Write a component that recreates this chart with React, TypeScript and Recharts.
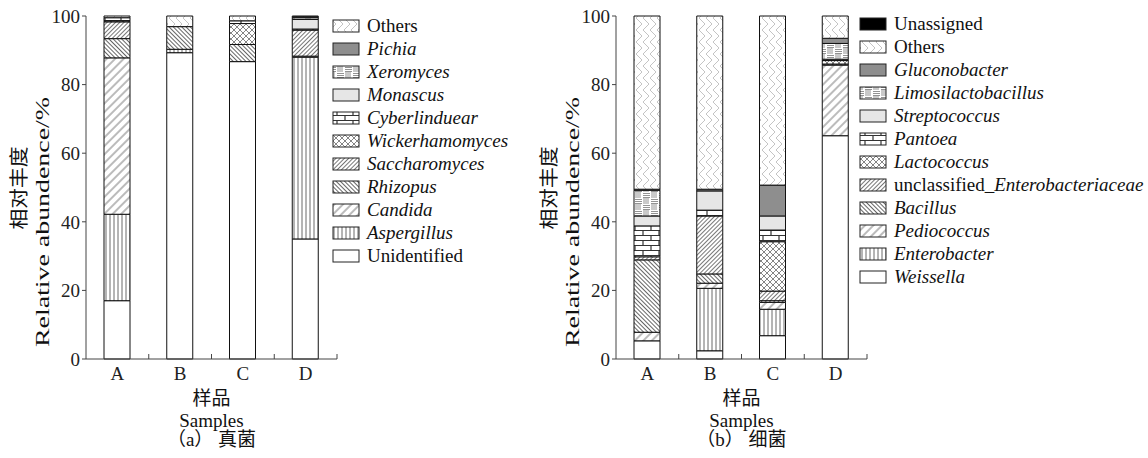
import { Bar, BarChart, XAxis, YAxis } from 'recharts'

const samples = ['A', 'B', 'C', 'D']
const yTicks = [0, 20, 40, 60, 80, 100]

// (a) fungi, stacked bottom -> top
const fungiSeries = [
  'Unidentified', 'Aspergillus', 'Candida', 'Rhizopus', 'Saccharomyces',
  'Wickerhamomyces', 'Cyberlinduear', 'Monascus', 'Xeromyces', 'Pichia', 'Others',
]
const unidentified = [17.0, 89.3, 86.7, 35.0]
const aspergillus = [25.2, 1.0, 0, 53.0]
const candida = [45.6, 0, 0, 0.3]
const rhizopus = [5.6, 6.6, 5.0, 0]
const saccharomyces = [4.9, 0, 0, 7.6]
const wickerhamomyces = [0.3, 0, 6.1, 0]
const cyberlinduear = [0.9, 0, 0.8, 0.3]
const monascus = [0, 0, 0, 2.8]
const xeromyces = [0, 0, 0, 0.5]
const pichia = [0, 0, 0, 0.3]
const fungiOthers = [0.5, 3.1, 1.4, 0.2]

// (b) bacteria, stacked bottom -> top
const bacteriaSeries = [
  'Weissella', 'Enterobacter', 'Pediococcus', 'Bacillus', 'unclassified_Enterobacteriaceae',
  'Lactococcus', 'Pantoea', 'Streptococcus', 'Limosilactobacillus', 'Gluconobacter', 'Others', 'Unassigned',
]
const weissella = [5.3, 2.4, 6.8, 65.1]
const enterobacter = [0, 18.2, 7.7, 0]
const pediococcus = [2.5, 1.5, 2.0, 20.6]
const bacillus = [21.1, 2.7, 0.5, 0]
const unclassifiedEnt = [0.9, 16.9, 2.8, 0.3]
const lactococcus = [0, 0, 14.4, 1.0]
const pantoea = [9.0, 1.7, 3.4, 0.4]
const streptococcus = [2.9, 5.6, 4.1, 0]
const limosilactobacillus = [7.5, 0, 0, 4.6]
const gluconobacter = [0.3, 0.5, 9.0, 1.5]
const bacteriaOthers = [50.5, 50.5, 49.3, 6.5]
const unassigned = [0, 0, 0, 0]

const fungiValues = [
  unidentified, aspergillus, candida, rhizopus, saccharomyces,
  wickerhamomyces, cyberlinduear, monascus, xeromyces, pichia, fungiOthers,
]
const bacteriaValues = [
  weissella, enterobacter, pediococcus, bacillus, unclassifiedEnt,
  lactococcus, pantoea, streptococcus, limosilactobacillus, gluconobacter, bacteriaOthers, unassigned,
]

const buildRows = (names: string[], values: number[][]) =>
  samples.map((s, i) => {
    const row: Record<string, string | number> = { sample: s }
    names.forEach((n, k) => (row[n] = values[k][i]))
    return row
  })

const fungiData = buildRows(fungiSeries, fungiValues)
const bacteriaData = buildRows(bacteriaSeries, bacteriaValues)

// fills, same order as the stacks
const fungiFills = [
  '#ffffff', 'url(#pVert)', 'url(#pSparse)', 'url(#pBack)', 'url(#pFwd)',
  'url(#pCross)', 'url(#pBrick)', '#e6e6e6', 'url(#pBasket)', '#8e8e8e', 'url(#pZig)',
]
const bacteriaFills = [
  '#ffffff', 'url(#pVert)', 'url(#pSparse)', 'url(#pBack)', 'url(#pFwd)',
  'url(#pCross)', 'url(#pBrick)', '#e6e6e6', 'url(#pBasket)', '#8e8e8e', 'url(#pZig)', '#000000',
]
const plain = new Set(['Others', 'Unidentified', 'Unassigned'])

const FONT = '"Liberation Serif", "Times New Roman", "Noto Sans CJK SC", serif'
const CHART_W = 340
const CHART_H = 400
const MARGIN = { top: 16, right: 3, bottom: 11, left: 46 }
const AXIS_Y = CHART_H - MARGIN.bottom - 30
const BAND = (CHART_W - MARGIN.left - 40 - MARGIN.right) / samples.length

const SampleTick = (props: any) => {
  const { x, payload } = props
  return (
    <g>
      <line x1={x + BAND / 2} x2={x + BAND / 2} y1={AXIS_Y} y2={AXIS_Y - 5} stroke="#444" />
      <text x={x} y={AXIS_Y + 21} textAnchor="middle" fontSize={19} fill="#222" fontFamily={FONT}>
        {payload.value}
      </text>
    </g>
  )
}

function Patterns() {
  return (
    <svg width={0} height={0} style={{ position: 'absolute' }}>
      <defs>
        <pattern id="pVert" width={4} height={4} patternUnits="userSpaceOnUse">
          <rect width={4} height={4} fill="#fff" />
          <line x1={2} y1={0} x2={2} y2={4} stroke="#444" strokeWidth={0.8} />
        </pattern>
        <pattern id="pSparse" width={6} height={6} patternUnits="userSpaceOnUse" patternTransform="rotate(45)">
          <rect width={6} height={6} fill="#fff" />
          <line x1={3} y1={0} x2={3} y2={6} stroke="#555" strokeWidth={0.8} />
        </pattern>
        <pattern id="pFwd" width={3} height={3} patternUnits="userSpaceOnUse" patternTransform="rotate(45)">
          <rect width={3} height={3} fill="#fff" />
          <line x1={1.5} y1={0} x2={1.5} y2={3} stroke="#777" strokeWidth={1} />
        </pattern>
        <pattern id="pBack" width={3} height={3} patternUnits="userSpaceOnUse" patternTransform="rotate(-45)">
          <rect width={3} height={3} fill="#fff" />
          <line x1={1.5} y1={0} x2={1.5} y2={3} stroke="#666" strokeWidth={1} />
        </pattern>
        <pattern id="pCross" width={6} height={6} patternUnits="userSpaceOnUse">
          <rect width={6} height={6} fill="#fff" />
          <path d="M0,0 L6,6 M6,0 L0,6" stroke="#777" strokeWidth={0.9} />
        </pattern>
        <pattern id="pBrick" width={16} height={10} patternUnits="userSpaceOnUse">
          <rect width={16} height={10} fill="#fff" />
          <path d="M0,0.5 H16 M0,5.5 H16 M1,0 V5 M9,5 V10" stroke="#333" strokeWidth={1.2} />
        </pattern>
        <pattern id="pBasket" width={16} height={12} patternUnits="userSpaceOnUse">
          <rect width={16} height={12} fill="#fff" />
          <path d="M1,1.5 H8 M1,3.5 H8 M1,5.5 H8 M10,0 V6 M12,0 V6 M14,0 V6 M9,7.5 H16 M9,9.5 H16 M9,11.5 H16 M2,6 V12 M4,6 V12 M6,6 V12" stroke="#777" strokeWidth={0.8} />
        </pattern>
        <pattern id="pZig" width={14} height={12} patternUnits="userSpaceOnUse">
          <rect width={14} height={12} fill="#fff" />
          <path d="M7,0 L1,6 L7,12 M14,0 L8,6 L14,12" fill="none" stroke="#b5b5b5" strokeWidth={0.8} />
        </pattern>
      </defs>
    </svg>
  )
}

function StackChart({ data, names, fills, left }: { data: any[]; names: string[]; fills: string[]; left: number }) {
  return (
    <div style={{ position: 'absolute', left, top: 0 }}>
      <BarChart width={CHART_W} height={CHART_H} data={data} margin={MARGIN} barSize={26}>
        <XAxis
          dataKey="sample"
          height={30}
          tickLine={false}
          axisLine={{ stroke: '#444' }}
          tick={<SampleTick />}
          interval={0}
        />
        <YAxis
          width={40}
          domain={[0, 100]}
          ticks={yTicks}
          tickSize={4}
          tickMargin={2}
          axisLine={{ stroke: '#444' }}
          tickLine={{ stroke: '#444' }}
          tick={{ fontSize: 19, fill: '#222', fontFamily: FONT }}
        />
        {names.map((n, k) => (
          <Bar
            key={n}
            dataKey={n}
            stackId="s"
            fill={fills[k]}
            stroke="#111"
            strokeWidth={1}
            isAnimationActive={false}
          />
        ))}
      </BarChart>
    </div>
  )
}

function LegendLabel({ name }: { name: string }) {
  if (name === 'unclassified_Enterobacteriaceae') {
    return (
      <>
        <tspan>unclassified_</tspan>
        <tspan fontStyle="italic">Enterobacteriaceae</tspan>
      </>
    )
  }
  return <tspan fontStyle={plain.has(name) ? 'normal' : 'italic'}>{name}</tspan>
}

function Legend({ names, fills, x, top }: { names: string[]; fills: string[]; x: number; top: number }) {
  const order = names.map((n, k) => ({ n, f: fills[k] })).reverse()
  return (
    <g>
      {order.map((d, i) => {
        const cy = top + i * 23
        return (
          <g key={d.n}>
            <rect x={x} y={cy - 6} width={26} height={12} fill={d.f} stroke="#222" strokeWidth={1} />
            <text x={x + 34} y={cy + 6} fontSize={19} fill="#111" fontFamily={FONT}>
              <LegendLabel name={d.n} />
            </text>
          </g>
        )
      })}
    </g>
  )
}

function AxisTitles({ dx, caption }: { dx: number; caption: string }) {
  const cx = 211.5 + dx
  return (
    <g fontFamily={FONT} fill="#111" fontSize={19}>
      <text transform={`translate(${19 + dx},188) rotate(-90)`} textAnchor="middle" dominantBaseline="central" textLength={83} lengthAdjust="spacingAndGlyphs">
        相对丰度
      </text>
      <text transform={`translate(${42 + dx},222) rotate(-90)`} textAnchor="middle" dominantBaseline="central" textLength={250} lengthAdjust="spacingAndGlyphs">
        Relative abundence/%
      </text>
      <text x={cx} y={398} textAnchor="middle" dominantBaseline="central">样品</text>
      <text x={cx} y={420} textAnchor="middle" dominantBaseline="central">Samples</text>
      <text x={cx} y={439} textAnchor="middle" dominantBaseline="central">{caption}</text>
    </g>
  )
}

export default function App() {
  return (
    <div style={{ position: 'absolute', left: 0, top: 0, width: 1148, height: 458, background: '#fff', fontFamily: FONT, overflow: 'hidden' }}>
      <Patterns />
      <StackChart data={fungiData} names={fungiSeries} fills={fungiFills} left={0} />
      <StackChart data={bacteriaData} names={bacteriaSeries} fills={bacteriaFills} left={530} />
      <svg width={1148} height={458} style={{ position: 'absolute', left: 0, top: 0, pointerEvents: 'none' }}>
        <AxisTitles dx={0} caption="（a） 真菌" />
        <AxisTitles dx={530} caption="（b） 细菌" />
        <Legend names={fungiSeries} fills={fungiFills} x={333} top={26} />
        <Legend names={bacteriaSeries} fills={bacteriaFills} x={860} top={24} />
      </svg>
    </div>
  )
}
